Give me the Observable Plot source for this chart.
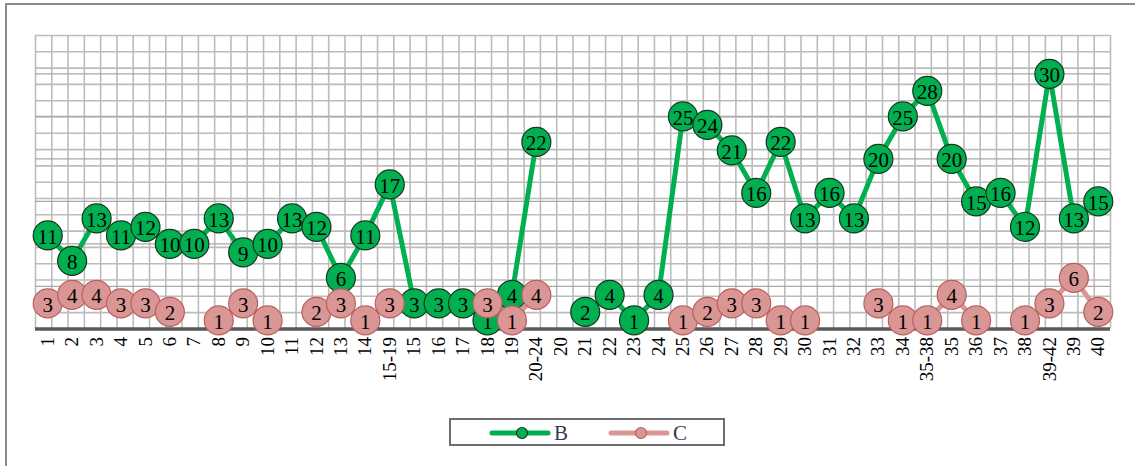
<!DOCTYPE html>
<html>
<head>
<meta charset="utf-8">
<script src="https://cdn.jsdelivr.net/npm/d3@7"></script>
<script src="https://cdn.jsdelivr.net/npm/@observablehq/plot@0.6"></script>
<style>
  html, body { margin: 0; padding: 0; background: #fff; overflow: hidden; width: 1135px; height: 466px; }
  #wrap { position: relative; width: 1135px; height: 466px; overflow: hidden; }
  #frame { position: absolute; left: 5px; top: 3px; width: 1200px; height: 520px; border: 2px solid #8a8a8a; box-sizing: border-box; }
  #chart { position: absolute; left: 0; top: 0; }
  #legend { position: absolute; left: 449px; top: 418px; width: 276px; height: 28px; border: 2px solid #6e6e6e; box-sizing: border-box; background: #fff; }
</style>
</head>
<body>
<div id="wrap">
  <div id="frame"></div>
  <div id="chart"></div>
  <div id="legend"></div>
</div>
<script>
const categories = ["1","2","3","4","5","6","7","8","9","10","11","12","13","14","15-19","15","16","17","18","19","20-24","20","21","22","23","24","25","26","27","28","29","30","31","32","33","34","35-38","35","36","37","38","39-42","39","40"];
const seriesB = [11,8,13,11,12,10,10,13,9,10,13,12,6,11,17,3,3,3,1,4,22,null,2,4,1,4,25,24,21,16,22,13,16,13,20,25,28,20,15,16,12,30,13,15];
const seriesC = [3,4,4,3,3,2,null,1,3,1,null,2,3,1,3,null,null,null,3,1,4,null,null,null,null,null,1,2,3,3,1,1,null,null,3,1,1,4,1,null,1,3,6,2];

const rows = categories.map((c, i) => ({i, cat: c, b: seriesB[i], c: seriesC[i]}));
const yMax = 34.52;
const serif = "'Liberation Serif', 'Times New Roman', serif";

const vGrid = d3.range(67).map(k => -0.5 + k * 2 / 3);
const hGrid = d3.range(19).map(k => k * yMax / 18);
const hMajor = [5, 10, 15, 20, 25, 30];

const bPts = rows.filter(d => d.b != null);
const cPts = rows.filter(d => d.c != null);

const bMarks = bPts.flatMap(d => [
  Plot.dot([d], {x: "i", y: "b", r: 14.5, fill: "#00b050", stroke: "#17351f", strokeWidth: 1.2}),
  Plot.text([d], {x: "i", y: "b", text: d => String(d.b), fontFamily: serif, fontSize: 21, fill: "#000", dy: 1.5})
]);
const cMarks = cPts.flatMap(d => [
  Plot.dot([d], {x: "i", y: "c", r: 14.5, fill: "#d99694", stroke: "#b8605e", strokeWidth: 1.2}),
  Plot.text([d], {x: "i", y: "c", text: d => String(d.c), fontFamily: serif, fontSize: 21, fill: "#000", dy: 1.5})
]);

const chart = Plot.plot({
  width: 1135,
  height: 400,
  marginTop: 35,
  marginBottom: 71.6,
  marginLeft: 35,
  marginRight: 25,
  style: {fontFamily: serif, fontSize: "19px", color: "#000", background: "transparent"},
  x: {domain: [-0.5, 43.5], axis: null, label: null},
  y: {domain: [0, yMax], axis: null, label: null},
  marks: [
    Plot.ruleX(vGrid, {stroke: "#bcbcbc", strokeWidth: 1.6}),
    Plot.ruleY(hGrid, {stroke: "#bcbcbc", strokeWidth: 1.6}),
    Plot.ruleY(hMajor, {stroke: "#a8a8a8", strokeWidth: 1.4}),
    Plot.ruleY([0], {stroke: "#595959", strokeWidth: 3.5}),
    Plot.axisX({ticks: d3.range(categories.length), tickFormat: i => categories[i], tickRotate: -90, tickSize: 0, tickPadding: 8, fontSize: 19, fontFamily: serif, fill: "#000", label: null}),
    Plot.line(rows, {x: "i", y: "b", stroke: "#00b050", strokeWidth: 5}),
    ...bMarks,
    Plot.line(rows, {x: "i", y: "c", stroke: "#d99694", strokeWidth: 5}),
    ...cMarks
  ]
});
document.getElementById("chart").appendChild(chart);

// legend
const legendItems = [
  {name: "B", line: "#00b050", fill: "#00b050", stroke: "#17351f", x: 41},
  {name: "C", line: "#d99694", fill: "#d99694", stroke: "#b8605e", x: 160}
];
const ns = "http://www.w3.org/2000/svg";
const lsvg = document.createElementNS(ns, "svg");
lsvg.setAttribute("width", 272);
lsvg.setAttribute("height", 24);
lsvg.style.display = "block";
for (const it of legendItems) {
  const ln = document.createElementNS(ns, "line");
  ln.setAttribute("x1", it.x); ln.setAttribute("x2", it.x + 56);
  ln.setAttribute("y1", 13); ln.setAttribute("y2", 13);
  ln.setAttribute("stroke", it.line); ln.setAttribute("stroke-width", 5);
  ln.setAttribute("stroke-linecap", "round");
  lsvg.appendChild(ln);
  const c = document.createElementNS(ns, "circle");
  c.setAttribute("cx", it.x + 30); c.setAttribute("cy", 13); c.setAttribute("r", 5.5);
  c.setAttribute("fill", it.fill); c.setAttribute("stroke", it.stroke); c.setAttribute("stroke-width", 1.2);
  lsvg.appendChild(c);
  const t = document.createElementNS(ns, "text");
  t.setAttribute("x", it.x + 62); t.setAttribute("y", 20);
  t.setAttribute("font-family", serif); t.setAttribute("font-size", 21);
  t.setAttribute("fill", "#2f3b52");
  t.textContent = it.name;
  lsvg.appendChild(t);
}
document.getElementById("legend").appendChild(lsvg);
</script>
</body>
</html>
